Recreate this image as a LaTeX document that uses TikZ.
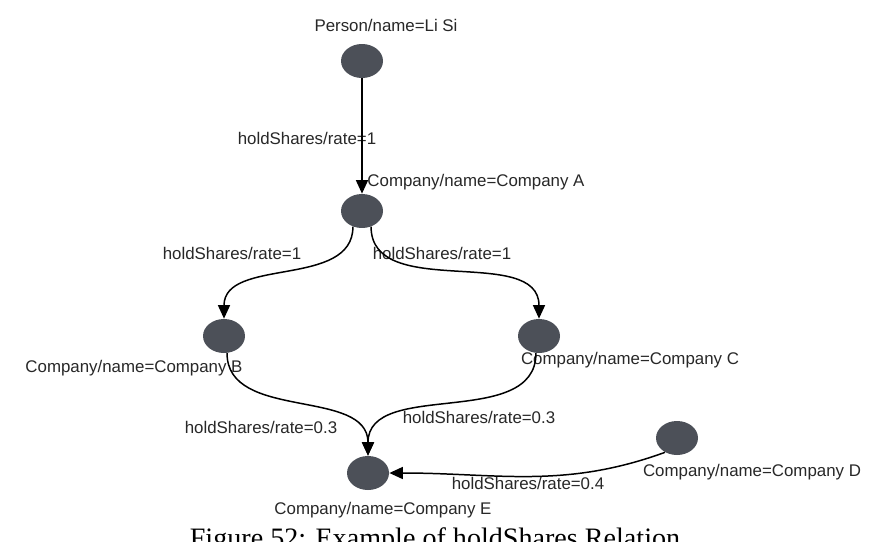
\documentclass[tikz,border=0pt]{standalone}
\usepackage{fontspec}
\setmainfont{Liberation Sans}
\newfontfamily\captionfont{Liberation Serif}
\usepackage{tikz}
\usetikzlibrary{arrows.meta,positioning,shapes.geometric}
\definecolor{NodeGray}{RGB}{76,80,88}
\definecolor{LabelGray}{RGB}{40,40,40}

\begin{document}
\begin{tikzpicture}[
  x=0.02cm, y=-0.02cm,
  vertex/.style={
    ellipse,
    fill=NodeGray,
    minimum width=0.84cm,
    minimum height=0.68cm,
    inner sep=0pt
  },
  tag/.style={font=\fontsize{9.6}{11.5}\selectfont, text=LabelGray, inner sep=0pt},
  hold/.style={-{Triangle[length=2.7mm,width=2.4mm]}, line width=0.85pt},
  font=\small
]
\useasboundingbox[fill=white] (0,0) rectangle (872,541);

\node[vertex] (lisi) at (362,61) {};
\node[vertex] (compA) at (362,211) {};
\node[vertex] (compB) at (224,336) {};
\node[vertex] (compC) at (539,336) {};
\node[vertex] (compD) at (677,438) {};
\node[vertex] (compE) at (368,473) {};

\node[tag] (lisiName) at (386,25) {Person/name=Li Si};
\node[tag] (compAName) at (476,182) {Company/name=Company A};
\node[tag] (compBName) at (134,368) {Company/name=Company B};
\node[tag] (compCName) at (630,360) {Company/name=Company C};
\node[tag] (compDName) at (752,472) {Company/name=Company D};
\node[tag] (compEName) at (383,510) {Company/name=Company E};

\node[tag] (rateLisiA) at (307,138) {holdShares/rate=1};
\node[tag] (rateAB) at (232,253) {holdShares/rate=1};
\node[tag] (rateAC) at (442,253) {holdShares/rate=1};
\node[tag] (rateBE) at (261,427) {holdShares/rate=0.3};
\node[tag] (rateCE) at (479,417) {holdShares/rate=0.3};
\node[tag] (rateDE) at (528,483) {holdShares/rate=0.4};

\draw[hold] (lisi.south) -- (compA.north);
\draw[hold] (compA.-120) to[out=-90,in=90] (compB.north);
\draw[hold] (compA.-60) to[out=-90,in=90] (compC.north);
\draw[hold] (compB.-80) to[out=-90,in=90] (compE.north);
\draw[hold] (compC.-100) to[out=-90,in=90] (compE.north);
\draw[hold] (compD.-130) to[out=200,in=0] (compE.east);

\node[font=\captionfont\fontsize{16}{19}\selectfont, anchor=north, inner sep=0pt] (caption) at (435,527) {Figure 52: Example of holdShares Relation};
\end{tikzpicture}
\end{document}
